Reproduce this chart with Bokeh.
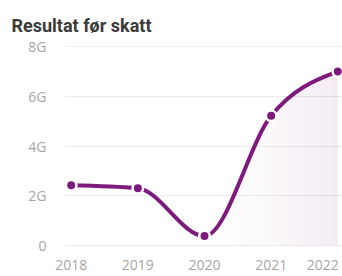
from bokeh.plotting import figure
from bokeh.models import Range1d, FixedTicker
from bokeh.embed import file_html
from bokeh.resources import INLINE

title_text = "Resultat før skatt"
years = [2018, 2019, 2020, 2021, 2022]
values = [2.42, 2.30, 0.37, 5.22, 7.01]   # in G (milliarder)
y_ticks = [0, 2, 4, 6, 8]
y_tick_labels = {0: "0", 2: "2G", 4: "4G", 6: "6G", 8: "8G"}
x_tick_labels = {y: str(y) for y in years}
# last label is pushed inwards so that it fits inside the chart (no-break space)
x_tick_labels[years[-1]] = str(years[-1]) + "\u00a0"

LINE = "#7e1a7e"
GRID = "#ececec"
TICK = "#a6a6a6"

# monotone cubic (d3 curveMonotoneX style) tangents from the data
n = len(years)
h = [years[i + 1] - years[i] for i in range(n - 1)]
s = [(values[i + 1] - values[i]) / h[i] for i in range(n - 1)]

def sign(v):
    return (v > 0) - (v < 0)

t = [0.0] * n
for i in range(1, n - 1):
    p_ = (s[i - 1] * h[i] + s[i] * h[i - 1]) / (h[i - 1] + h[i])
    t[i] = (sign(s[i - 1]) + sign(s[i])) * min(abs(s[i - 1]), abs(s[i]), 0.5 * abs(p_))
t[0] = (3 * s[0] - t[1]) / 2
t[-1] = (3 * s[-1] - t[-2]) / 2

x0, y0, x1, y1, cx0, cy0, cx1, cy1 = [], [], [], [], [], [], [], []
for i in range(n - 1):
    x0.append(years[i]); y0.append(values[i])
    x1.append(years[i + 1]); y1.append(values[i + 1])
    cx0.append(years[i] + h[i] / 3); cy0.append(values[i] + t[i] * h[i] / 3)
    cx1.append(years[i + 1] - h[i] / 3); cy1.append(values[i + 1] - t[i + 1] * h[i] / 3)

# sample the same bezier segments for the area fill
fx, fy = [], []
steps = 24
for i in range(n - 1):
    for k in range(steps + (1 if i == n - 2 else 0)):
        u = k / steps
        a, b, c, d = (1 - u) ** 3, 3 * u * (1 - u) ** 2, 3 * u * u * (1 - u), u ** 3
        fx.append(a * x0[i] + b * cx0[i] + c * cx1[i] + d * x1[i])
        fy.append(a * y0[i] + b * cy0[i] + c * cy1[i] + d * y1[i])

p = figure(width=342, height=276, output_backend="svg", toolbar_location=None,
           x_range=Range1d(years[0] - 0.10, years[-1] + 0.07),
           y_range=Range1d(-0.13, 8.26),
           min_border_left=64, min_border_right=0, min_border_top=40, min_border_bottom=0)
p.outline_line_color = None
p.background_fill_color = "white"

p.title.text = title_text
p.title.text_font = "Roboto"
p.title.text_font_size = "18px"
p.title.text_font_style = "bold"
p.title.text_color = "#3a3a3a"
p.title.align = "left"
p.title.offset = -53

# gradient-like fill: strips with alpha increasing to the right
m = len(fx)
for j in range(m - 1):
    frac = (fx[j] - years[2]) / (years[-1] - years[2])
    if frac <= 0:
        continue
    p.varea(x=[fx[j], fx[j + 1]], y1=[0, 0], y2=[fy[j], fy[j + 1]],
            fill_color=LINE, fill_alpha=0.085 * min(frac, 1.0) ** 1.3)

p.bezier(x0=x0, y0=y0, x1=x1, y1=y1, cx0=cx0, cy0=cy0, cx1=cx1, cy1=cy1,
         line_color=LINE, line_width=4)
p.scatter(years, values, size=10.5, fill_color=LINE, line_color="white", line_width=2.5)

p.xgrid.grid_line_color = None
p.ygrid.grid_line_color = GRID
p.ygrid.grid_line_width = 1

p.yaxis.ticker = FixedTicker(ticks=y_ticks)
p.yaxis.major_label_overrides = y_tick_labels
p.xaxis.ticker = FixedTicker(ticks=years)
p.xaxis.major_label_overrides = x_tick_labels
for ax in (p.xaxis, p.yaxis):
    ax.axis_line_color = None
    ax.major_tick_line_color = None
    ax.minor_tick_line_color = None
    ax.major_tick_out = 0
    ax.major_tick_in = 0
    ax.major_label_text_font = "Open Sans"
    ax.major_label_text_font_size = "14px"
    ax.major_label_text_color = TICK
p.yaxis.major_label_standoff = 18
p.xaxis.major_label_standoff = 6
p.xaxis.major_label_text_line_height = 0.3

open("out.html", "w").write(file_html(p, INLINE))
